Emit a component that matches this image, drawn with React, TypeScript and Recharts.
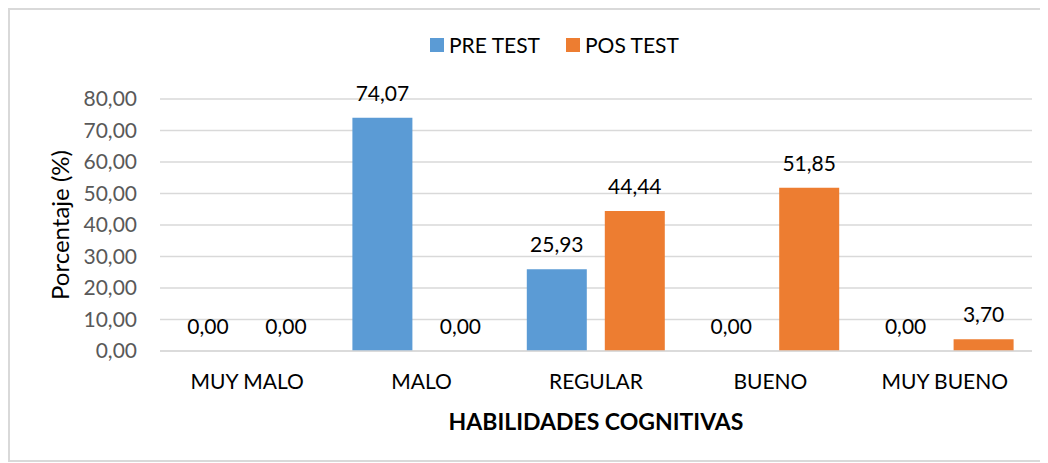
import { BarChart, Bar, XAxis, YAxis, CartesianGrid, Legend, LabelList } from "recharts";

const categories = ["MUY MALO", "MALO", "REGULAR", "BUENO", "MUY BUENO"];
const preTest = [0, 74.07, 25.93, 0, 0];
const posTest = [0, 0, 44.44, 51.85, 3.7];
const yTicks = [0, 10, 20, 30, 40, 50, 60, 70, 80];

const data = categories.map((name, i) => ({ name, pre: preTest[i], pos: posTest[i] }));

const FONT = "Lato, 'Noto Sans', sans-serif";
const fmt = (v: number) => Number(v).toFixed(2).replace(".", ",");

const LegendBox = () => (
  <div style={{ display: "flex", alignItems: "center", marginLeft: 420, fontFamily: FONT, fontSize: 21, color: "#000" }}>
    <span style={{ width: 14, height: 14, background: "#5B9BD5", marginRight: 5 }} />
    <span style={{ marginRight: 26 }}>PRE TEST</span>
    <span style={{ width: 14, height: 14, background: "#ED7D31", marginRight: 5 }} />
    <span>POS TEST</span>
  </div>
);

const App = () => {
  return (
    <div style={{ width: 1030, height: 450, border: "2px solid #d9d9d9", fontFamily: FONT }}>
      <BarChart
        width={1030}
        height={450}
        data={data}
        margin={{ top: 64, right: 8, left: 0, bottom: 0 }}
        barSize={60}
        barGap={18}
      >
        <Legend verticalAlign="top" content={<LegendBox />} wrapperStyle={{ top: 22, left: 0, width: 1030 }} />
        <CartesianGrid vertical={false} stroke="#d9d9d9" strokeWidth={1.5} />
        <XAxis
          dataKey="name"
          height={109}
          tickSize={0}
          tickMargin={23}
          axisLine={{ stroke: "#d9d9d9", strokeWidth: 1.5 }}
          tick={{ fill: "#000", fontSize: 21, fontFamily: FONT }}
          label={{
            content: ({ viewBox }: any) => (
              <text
                x={viewBox.x + viewBox.width / 2}
                y={viewBox.y + 79}
                textAnchor="middle"
                fontFamily={FONT}
                fontSize={23}
                fontWeight="bold"
                fill="#000"
              >
                HABILIDADES COGNITIVAS
              </text>
            ),
          }}
        />
        <YAxis
          width={150}
          domain={[0, 80]}
          ticks={yTicks}
          tickFormatter={fmt}
          tickSize={0}
          tickMargin={23}
          axisLine={false}
          tick={{ fill: "#595959", fontSize: 21, fontFamily: FONT }}
          label={{
            content: ({ viewBox }: any) => {
              const cx = 59;
              const cy = viewBox.y + viewBox.height / 2;
              return (
                <text
                  x={cx}
                  y={cy}
                  transform={`rotate(-90, ${cx}, ${cy})`}
                  textAnchor="middle"
                  fontFamily={FONT}
                  fontSize={24}
                  fill="#000"
                >
                  Porcentaje (%)
                </text>
              );
            },
          }}
        />
        <Bar dataKey="pre" name="PRE TEST" fill="#5B9BD5" minPointSize={0.01} isAnimationActive={false}>
          <LabelList dataKey="pre" position="top" offset={17} formatter={fmt as any} fill="#000" fontSize={21} fontFamily={FONT} />
        </Bar>
        <Bar dataKey="pos" name="POS TEST" fill="#ED7D31" minPointSize={0.01} isAnimationActive={false}>
          <LabelList dataKey="pos" position="top" offset={17} formatter={fmt as any} fill="#000" fontSize={21} fontFamily={FONT} />
        </Bar>
      </BarChart>
    </div>
  );
};

export default App;
